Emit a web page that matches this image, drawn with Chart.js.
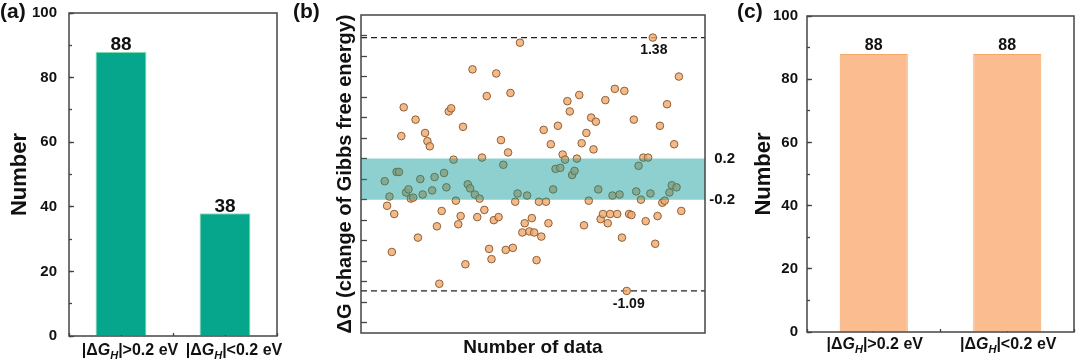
<!DOCTYPE html>
<html>
<head>
<meta charset="utf-8">
<script src="https://cdn.jsdelivr.net/npm/chart.js@4.4.0/dist/chart.umd.min.js"></script>
<style>
  body { margin: 0; width: 1080px; height: 361px; background: #fff; position: relative; overflow: hidden; }
  canvas { position: absolute; top: 0; }
</style>
</head>
<body>
<canvas id="chartA" width="290" height="361" style="left:0px"></canvas>
<canvas id="chartB" width="447" height="361" style="left:290px"></canvas>
<canvas id="chartC" width="350" height="361" style="left:730px"></canvas>
<script>
// data
const categories = ['|ΔG_H|>0.2 eV', '|ΔG_H|<0.2 eV'];
const countsA = [88, 38];
const countsC = [88, 88];
const countTicks = [0, 20, 40, 60, 80, 100];

// ΔG of each data point, in order
const deltaG = [
  -0.02, -0.26, -0.17, -0.71, -0.34, 0.07, 0.07, 0.42, 0.70, -0.13,
  -0.10, -0.19, -0.18, 0.58, -0.57, 0.00, -0.15, 0.45, 0.37, 0.32,
  -0.11, 0.02, -0.46, -1.02, -0.31, 0.06, -0.08, 0.66, 0.69, 0.19,
  -0.21, -0.44, -0.36, 0.51, -0.83, -0.05, -0.09, 1.07, -0.15, -0.37,
  -0.19, 0.21, -0.30, 0.81, -0.68, -0.78, -0.40, 1.03, -0.37, 0.38,
  0.14, -0.69, 0.26, 0.84, -0.67, -0.22, -0.14, 1.33, -0.52, -0.43,
  -0.16, -0.51, -0.38, -0.52, -0.79, -0.22, -0.56, 0.48, -0.22, -0.43,
  0.34, -0.10, 0.10, 0.52, 0.11, 0.24, 0.19, 0.76, 0.66, 0.04,
  0.08, 0.20, 0.82, 0.35, -0.45, 0.45, -0.21, 0.60, 0.29, 0.56,
  -0.10, -0.39, -0.34, 0.77, -0.43, -0.34, -0.16, 0.88, -0.34, -0.15,
  -0.57, 0.86, -1.09, -0.34, -0.35, 0.58, -0.12, 0.13, -0.20, 0.21,
  -0.41, 0.21, -0.14, 1.38, -0.63, -0.36, 0.52, -0.23, -0.21, 0.73,
  -0.13, -0.06, 0.34, -0.08, 1.00, -0.31
];
const threshold = 0.2;
const gTicks = [-1.4, -1.2, -1.0, -0.8, -0.6, -0.4, -0.2, 0, 0.2, 0.4, 0.6, 0.8, 1.0, 1.2, 1.4];

const FONT = 'Arial, "Liberation Sans", sans-serif';
Chart.defaults.font.family = FONT;
Chart.defaults.color = '#111';

const fixWidth = w => s => { s.width = w; s.paddingTop = 0; s.paddingBottom = 0; };
const fixHeight = h => s => { s.height = h; s.paddingLeft = 0; s.paddingRight = 0; };

// frame round the plot area
const boxPlugin = {
  id: 'box',
  afterDraw(chart) {
    const { ctx, chartArea: a } = chart;
    ctx.save();
    ctx.strokeStyle = '#444';
    ctx.lineWidth = 1.5;
    ctx.strokeRect(a.left, a.top, a.right - a.left, a.bottom - a.top);
    ctx.restore();
  }
};

// (a) (b) (c)
const tagPlugin = {
  id: 'tag',
  afterDraw(chart, args, opts) {
    const ctx = chart.ctx;
    ctx.save();
    ctx.font = 'bold 21px ' + FONT;
    ctx.fillStyle = '#111';
    ctx.textBaseline = 'middle';
    ctx.fillText(opts.text, opts.x, 12);
    ctx.restore();
  }
};

// value above each bar
const barValuePlugin = {
  id: 'barValue',
  afterDatasetsDraw(chart, args, opts) {
    const ctx = chart.ctx;
    const ds = chart.data.datasets[0];
    ctx.save();
    ctx.font = 'bold ' + opts.size + 'px ' + FONT;
    ctx.fillStyle = '#111';
    ctx.textAlign = 'center';
    ctx.textBaseline = 'alphabetic';
    chart.getDatasetMeta(0).data.forEach((bar, i) => {
      ctx.fillText(ds.data[i], bar.x, bar.y - opts.gap);
    });
    ctx.restore();
  }
};

// category labels with italic G and subscript H
function drawDeltaLabel(ctx, text, cx, y, size) {
  const [pre, post] = text.split('G_H');
  const fN = 'bold ' + size + 'px ' + FONT;
  const fI = 'italic bold ' + size + 'px ' + FONT;
  const fS = 'italic bold ' + Math.round(size * 0.68) + 'px ' + FONT;
  ctx.font = fN; const w1 = ctx.measureText(pre).width;
  ctx.font = fI; const w2 = ctx.measureText('G').width;
  ctx.font = fS; const w3 = ctx.measureText('H').width;
  ctx.font = fN; const w4 = ctx.measureText(post).width;
  let x = cx - (w1 + w2 + w3 + w4) / 2;
  ctx.textAlign = 'left';
  ctx.textBaseline = 'alphabetic';
  ctx.font = fN; ctx.fillText(pre, x, y); x += w1;
  ctx.font = fI; ctx.fillText('G', x, y); x += w2;
  ctx.font = fS; ctx.fillText('H', x, y + size * 0.22); x += w3;
  ctx.font = fN; ctx.fillText(post, x, y);
}

const catLabelPlugin = {
  id: 'catLabel',
  afterDraw(chart, args, opts) {
    const ctx = chart.ctx;
    const x = chart.scales.x;
    ctx.save();
    ctx.fillStyle = '#111';
    chart.data.labels.forEach((lab, i) => {
      drawDeltaLabel(ctx, lab, x.getPixelForValue(i) + opts.dx, opts.y, opts.size);
    });
    ctx.restore();
  }
};

function barConfig(values, color, border, barPct, dims, labelOpts) {
  return {
    type: 'bar',
    data: {
      labels: categories,
      datasets: [{
        data: values,
        backgroundColor: color,
        borderColor: border,
        borderWidth: 1,
        categoryPercentage: 1,
        barPercentage: barPct,
        xAxisID: 'x',
        yAxisID: 'y'
      }]
    },
    options: {
      responsive: false,
      animation: false,
      layout: { padding: { left: 0, right: dims.right, top: dims.top, bottom: 0 } },
      plugins: {
        legend: { display: false },
        tooltip: { enabled: false },
        tag: { text: dims.tag, x: dims.tagX },
        barValue: labelOpts,
        catLabel: { y: dims.labelY, dx: dims.labelDx, size: 16 }
      },
      scales: {
        x: {
          type: 'category', axis: 'x', position: 'bottom', offset: true, weight: 1, z: 1,
          grid: { drawOnChartArea: false, offset: false, tickLength: -5, tickColor: '#444', tickWidth: 1.3 },
          border: { display: false },
          ticks: { display: false },
          afterFit: fixHeight(dims.xh)
        },
        xMinor: {
          type: 'category', axis: 'x', position: 'bottom', offset: true, weight: 0, z: 1,
          grid: { drawOnChartArea: false, offset: true, tickLength: -3, tickColor: '#444', tickWidth: 1.3 },
          border: { display: false },
          ticks: { display: false },
          afterFit: fixHeight(0)
        },
        y: {
          type: 'linear', axis: 'y', position: 'left', min: 0, max: 100, weight: 1,
          afterBuildTicks: s => { s.ticks = countTicks.map(v => ({ value: v })); },
          grid: { drawOnChartArea: false, tickLength: -5, tickColor: '#444', tickWidth: 1.3 },
          border: { display: false },
          ticks: { padding: dims.tickPad, font: { size: 15, weight: 'bold' }, color: '#111' },
          title: { display: true, text: 'Number', font: { size: 22, weight: 'bold' }, padding: { top: dims.titlePad, bottom: 0 }, color: '#111' },
          afterFit: fixWidth(dims.yw)
        },
        yMinor: {
          type: 'linear', axis: 'y', position: 'left', min: 0, max: 100, weight: 0,
          grid: { drawOnChartArea: false, tickLength: -3, tickColor: '#444', tickWidth: 1.3 },
          border: { display: false },
          ticks: { display: false, stepSize: 10 },
          afterFit: fixWidth(0)
        }
      }
    },
    plugins: [boxPlugin, tagPlugin, barValuePlugin, catLabelPlugin]
  };
}

new Chart(document.getElementById('chartA'), barConfig(
  countsA, '#05a68b', '#8fe6a2', 0.49,
  { right: 13, top: 13, xh: 25, yw: 69, tickPad: 17, titlePad: 7, tag: '(a)', tagX: 0, labelY: 355, labelDx: 9 },
  { size: 19, gap: 1.5 }
));

new Chart(document.getElementById('chartC'), barConfig(
  countsC, '#fbbd90', '#f2a866', 0.51,
  { right: 6, top: 16, xh: 29, yw: 77, tickPad: 14, titlePad: 21, tag: '(c)', tagX: 7, labelY: 349, labelDx: 1 },
  { size: 16, gap: 4 }
));

// panel (b)
const gMax = Math.max(...deltaG);
const gMin = Math.min(...deltaG);
const iMax = deltaG.indexOf(gMax) + 1;
const iMin = deltaG.indexOf(gMin) + 1;
const xMin = -9, xMax = 136;
const hLine = v => [{ x: xMin, y: v }, { x: xMax, y: v }];

const refLabelPlugin = {
  id: 'refLabel',
  afterDatasetsDraw(chart) {
    const { ctx, scales: { x, y } } = chart;
    ctx.save();
    ctx.font = 'bold 14px ' + FONT;
    ctx.fillStyle = '#111';
    ctx.textAlign = 'center';
    ctx.textBaseline = 'middle';
    ctx.fillText(gMax.toFixed(2), x.getPixelForValue(iMax) + 1, y.getPixelForValue(gMax) + 13);
    ctx.fillText(gMin.toFixed(2), x.getPixelForValue(iMin) + 2, y.getPixelForValue(gMin) + 13);
    ctx.restore();
  }
};

new Chart(document.getElementById('chartB'), {
  type: 'scatter',
  data: {
    datasets: [
      {
        type: 'line',
        data: hLine(threshold),
        fill: { value: -threshold },
        backgroundColor: 'rgba(5,150,150,0.45)',
        borderWidth: 0,
        pointRadius: 0,
        order: 0
      },
      {
        data: deltaG.map((v, i) => ({ x: i + 1, y: v })),
        backgroundColor: 'rgba(242,170,110,0.82)',
        borderColor: '#8e5f36',
        borderWidth: 1,
        pointRadius: 3.8,
        order: 1
      },
      {
        type: 'line',
        data: hLine(gMax),
        borderColor: '#222',
        borderWidth: 1.2,
        borderDash: [6, 4],
        pointRadius: 0,
        order: 2
      },
      {
        type: 'line',
        data: hLine(gMin),
        borderColor: '#222',
        borderWidth: 1.2,
        borderDash: [6, 4],
        pointRadius: 0,
        order: 2
      }
    ]
  },
  options: {
    responsive: false,
    animation: false,
    layout: { padding: { left: 0, right: 2, top: 15, bottom: 0 } },
    plugins: {
      legend: { display: false },
      tooltip: { enabled: false },
      tag: { text: '(b)', x: 3 }
    },
    scales: {
      x: {
        type: 'linear', min: xMin, max: xMax,
        grid: { display: false },
        border: { display: false },
        ticks: { display: false },
        title: { display: true, text: 'Number of data', font: { size: 19, weight: 'bold' }, padding: { top: 0, bottom: 2 }, color: '#111' },
        afterFit: fixHeight(28)
      },
      y: {
        type: 'linear', position: 'left', min: -1.5, max: 1.6,
        afterBuildTicks: s => { s.ticks = gTicks.map(v => ({ value: v })); },
        grid: { drawOnChartArea: false, tickLength: -6, tickColor: '#444', tickWidth: 1.3 },
        border: { display: false },
        ticks: { display: false },
        title: { display: true, text: 'ΔG (change of Gibbs free energy)', font: { size: 20, weight: 'bold' }, padding: { top: 43, bottom: 0 }, color: '#111' },
        afterFit: fixWidth(71)
      },
      yRight: {
        type: 'linear', axis: 'y', position: 'right', min: -1.5, max: 1.6,
        afterBuildTicks: s => { s.ticks = [threshold, -threshold].map(v => ({ value: v })); },
        grid: { drawOnChartArea: false, drawTicks: false },
        border: { display: false },
        ticks: { crossAlign: 'far', font: { size: 15, weight: 'bold' }, color: '#111', callback: v => v.toFixed(1) },
        afterFit: fixWidth(30)
      }
    }
  },
  plugins: [boxPlugin, tagPlugin, refLabelPlugin]
});
</script>
</body>
</html>
